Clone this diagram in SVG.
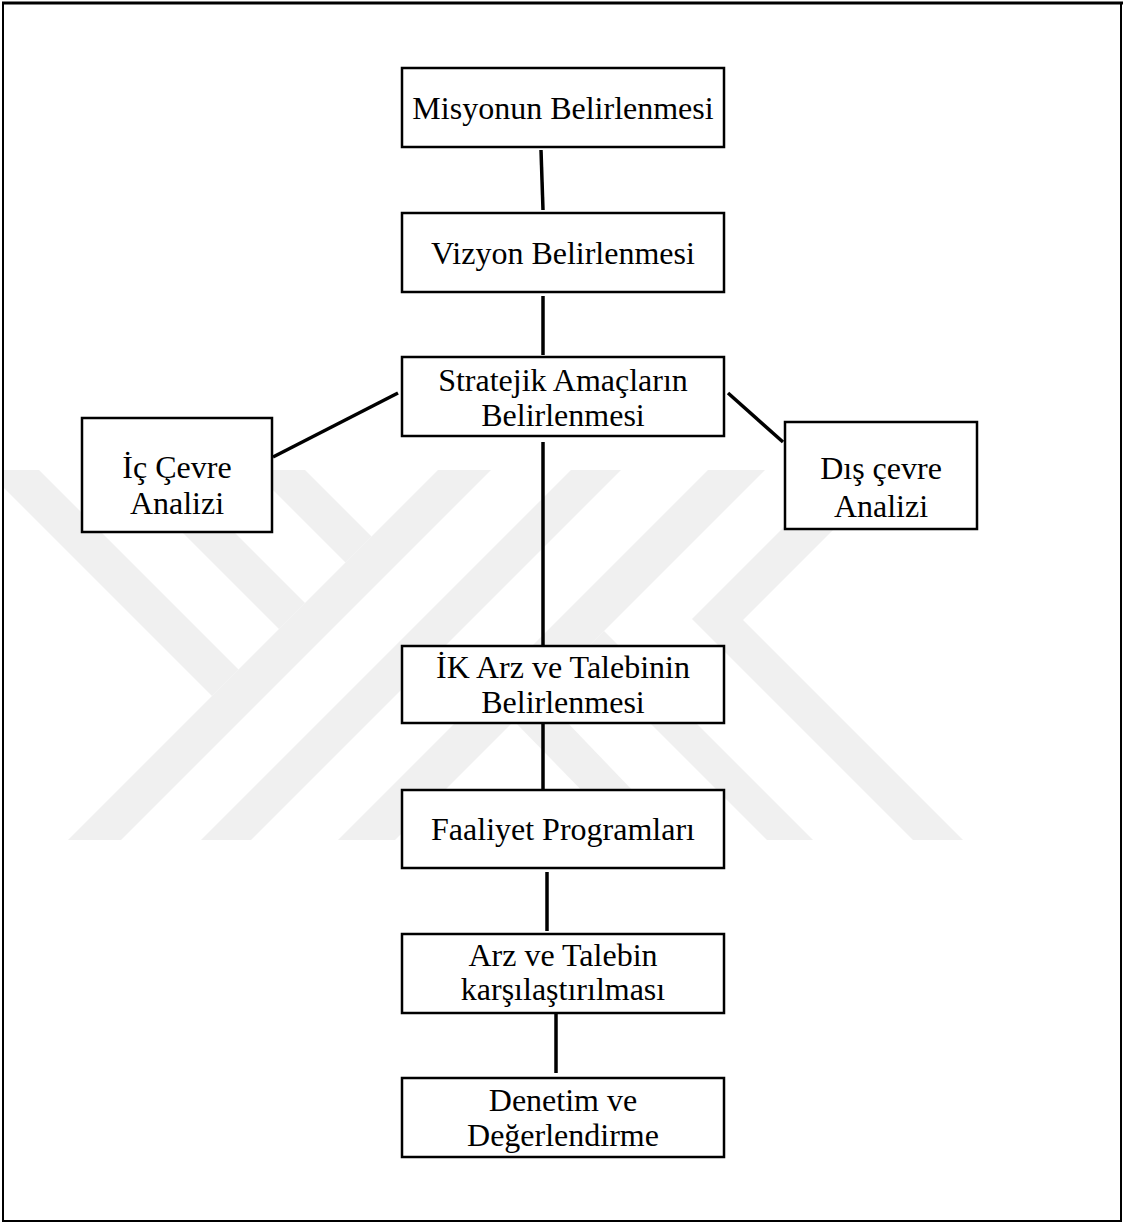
<svg xmlns="http://www.w3.org/2000/svg" width="1125" height="1223" viewBox="0 0 1125 1223">
<style>
.box{fill:#fff;stroke:#000;stroke-width:2.5}
.lbl{font-family:"Liberation Serif","Times New Roman",serif;font-size:32px;fill:#000;text-anchor:middle}
.con line{stroke:#000;stroke-width:3.5}
.wm{fill:#f0f0f0}
</style>
<defs>
<clipPath id="wmclip"><rect x="4" y="470" width="1116" height="370"/></clipPath>
</defs>
<rect x="0" y="0" width="1125" height="1223" fill="#fff"/>
<g id="watermark" class="wm" clip-path="url(#wmclip)">
<polygon points="438,470 491,470 121,840 68,840"/>
<polygon points="571,470 621,470 251,840 201,840"/>
<polygon points="708,470 765,470 395,840 338,840"/>
<polygon points="-14,470 39,470 238.5,669.5 212,696"/>
<polygon points="120,470 172,470 305,603 279,629"/>
<polygon points="253,470 305,470 371.5,536.5 345.5,562.5"/>
<polygon points="841,470 893,470 743,620 963,840 913,840 692,619"/>
<polygon points="604,631 813,840 767,840 581,654"/>
<polygon points="540,694 680,840 630,840 515,722"/>
</g>
<rect id="frame" x="3" y="3" width="1118" height="1218" fill="none" stroke="#000" stroke-width="2"/>
<line x1="2" y1="3" x2="1123" y2="3" stroke="#000" stroke-width="3"/>
<g id="connectors" class="con">
<line x1="541" y1="150" x2="543" y2="210"/>
<line x1="543" y1="296" x2="543" y2="355"/>
<line x1="543" y1="442" x2="543" y2="646"/>
<line x1="543" y1="723" x2="543" y2="790"/>
<line x1="547" y1="872" x2="547" y2="931"/>
<line x1="556" y1="1013" x2="556" y2="1073"/>
<line x1="398" y1="393" x2="273" y2="457"/>
<line x1="728" y1="393" x2="783" y2="442"/>
</g>
<g id="n1"><rect class="box" x="402" y="68" width="322" height="79"/><text class="lbl" x="563" y="119">Misyonun Belirlenmesi</text></g>
<g id="n2"><rect class="box" x="402" y="213" width="322" height="79"/><text class="lbl" x="563" y="264">Vizyon Belirlenmesi</text></g>
<g id="n3"><rect class="box" x="402" y="357" width="322" height="79"/><text class="lbl" x="563" y="391">Stratejik Amaçların</text><text class="lbl" x="563" y="426">Belirlenmesi</text></g>
<g id="n4"><rect class="box" x="82" y="418" width="190" height="114"/><text class="lbl" x="177" y="478">İç Çevre</text><text class="lbl" x="177" y="514">Analizi</text></g>
<g id="n5"><rect class="box" x="785" y="422" width="192" height="107"/><text class="lbl" x="881" y="479">Dış çevre</text><text class="lbl" x="881" y="517">Analizi</text></g>
<g id="n6"><rect class="box" x="402" y="646" width="322" height="77"/><text class="lbl" x="563" y="678">İK Arz ve Talebinin</text><text class="lbl" x="563" y="713">Belirlenmesi</text></g>
<g id="n7"><rect class="box" x="402" y="790" width="322" height="78"/><text class="lbl" x="563" y="840">Faaliyet Programları</text></g>
<g id="n8"><rect class="box" x="402" y="934" width="322" height="79"/><text class="lbl" x="563" y="966">Arz ve Talebin</text><text class="lbl" x="563" y="1000">karşılaştırılması</text></g>
<g id="n9"><rect class="box" x="402" y="1078" width="322" height="79"/><text class="lbl" x="563" y="1111">Denetim ve</text><text class="lbl" x="563" y="1146">Değerlendirme</text></g>
</svg>
